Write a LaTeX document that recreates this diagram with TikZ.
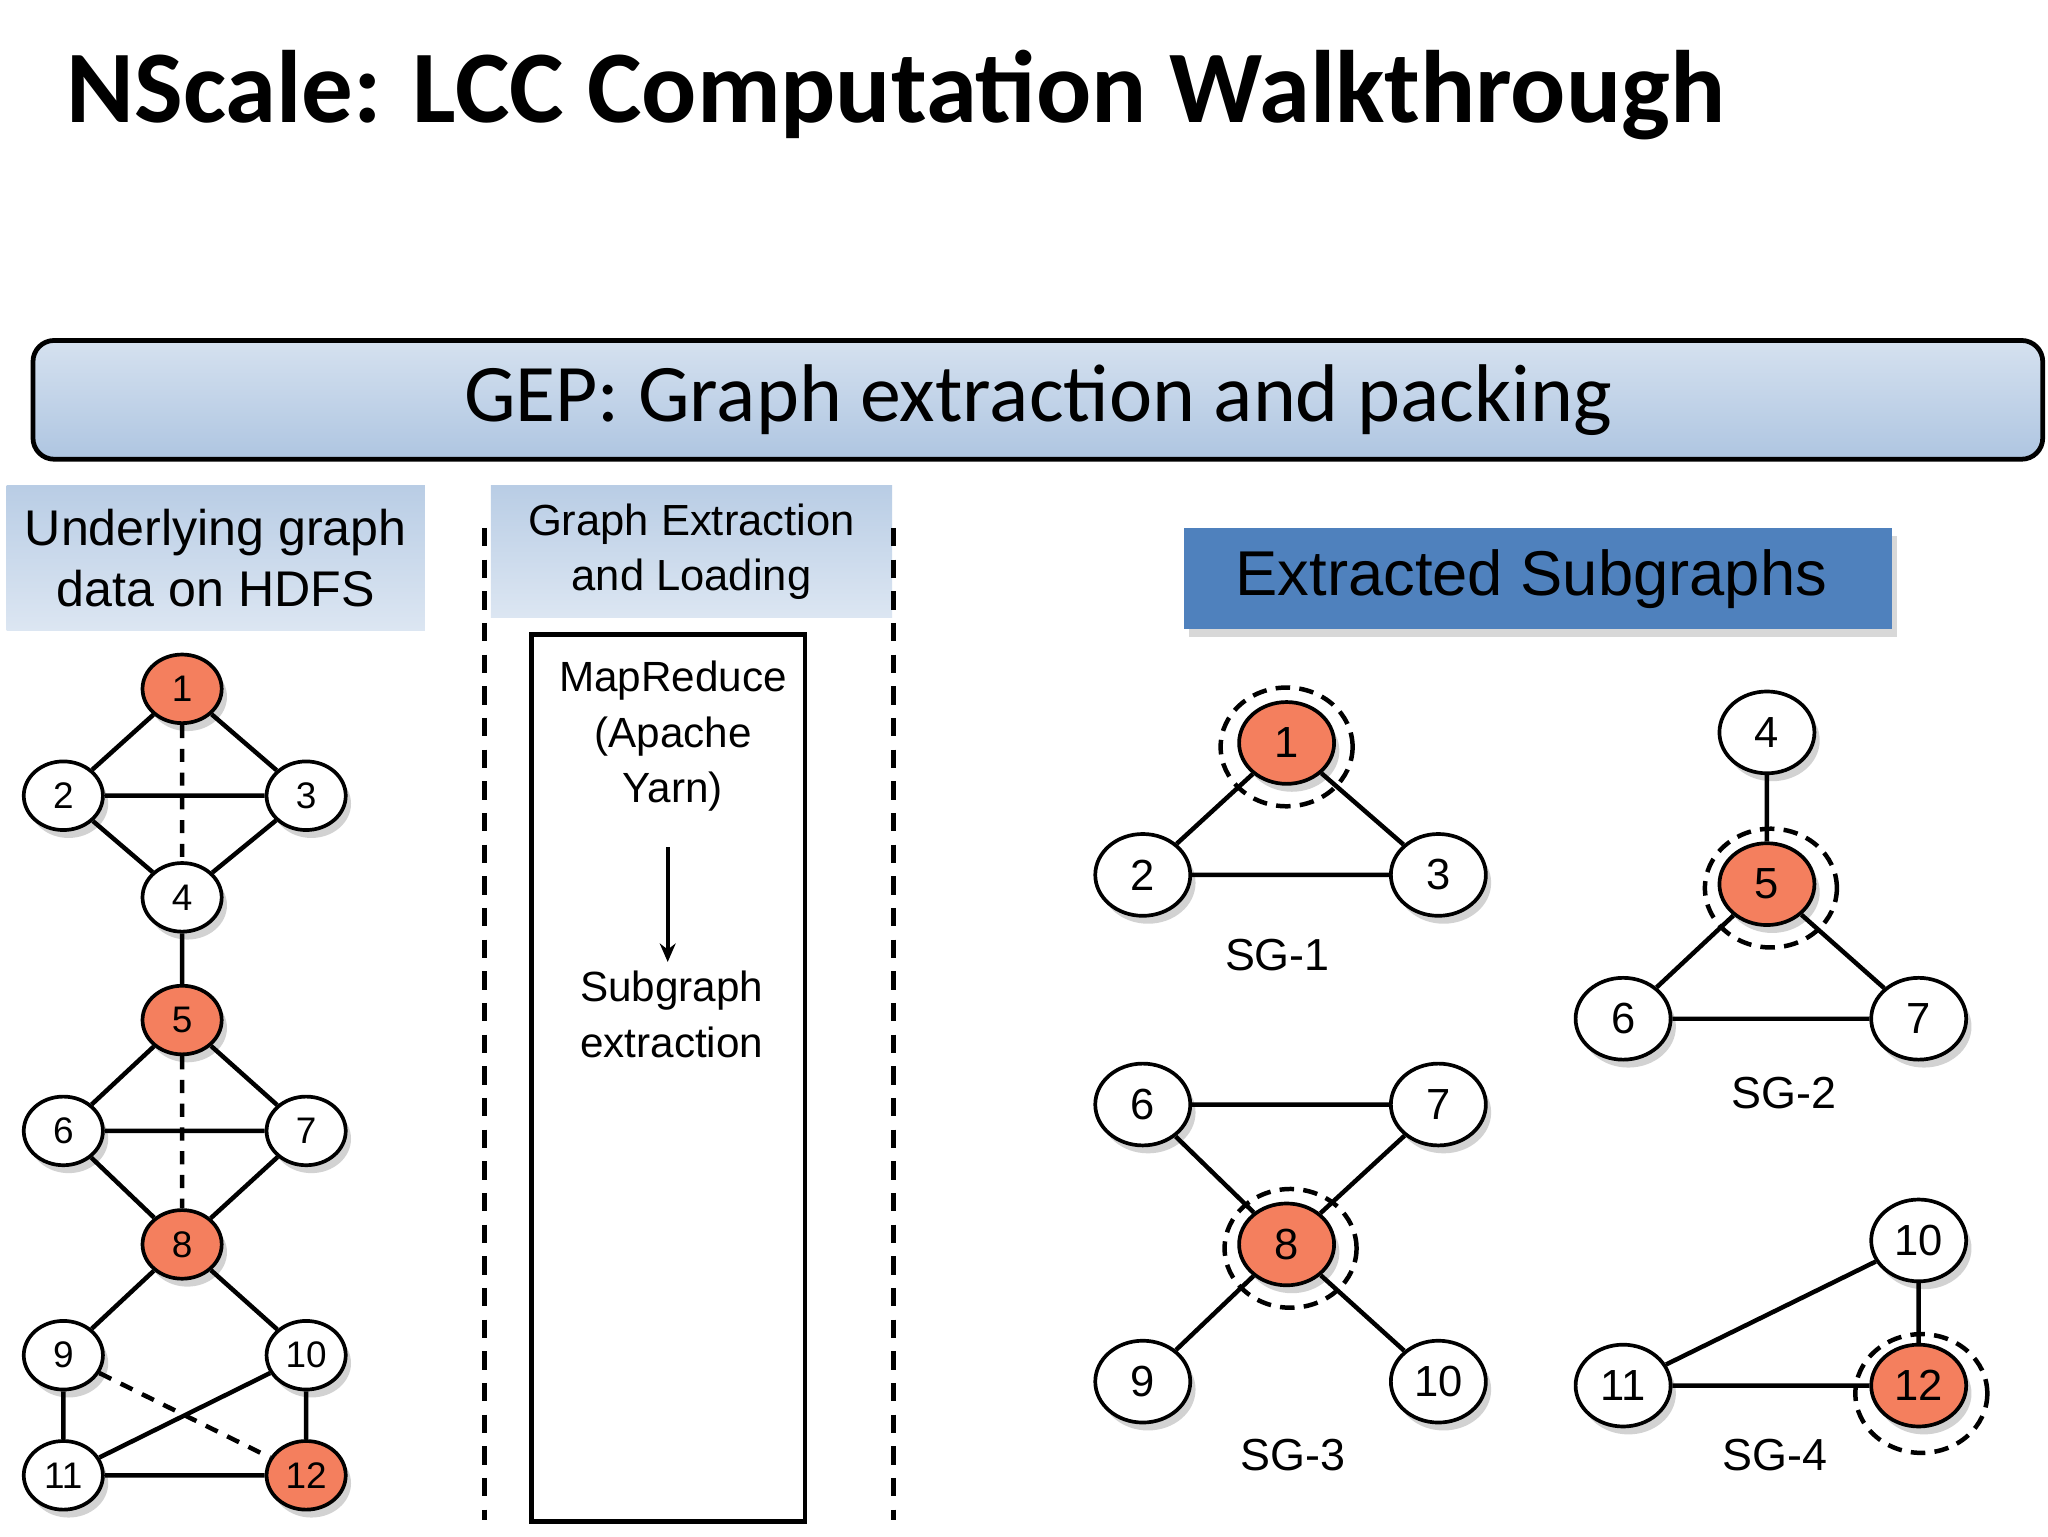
\documentclass[tikz,border=0pt]{standalone}
\usepackage{fontspec}
\setmainfont{Liberation Sans}
\newfontfamily\calib{Carlito}
\usetikzlibrary{shapes.geometric,shadows,arrows.meta}
\definecolor{nred}{HTML}{F47F5E}
\definecolor{hblue}{HTML}{B9CDE5}
\definecolor{sgblue}{HTML}{4F81BD}
\tikzset{
 gn/.style={ellipse,draw,line width=1.4pt,fill=white,minimum width=30pt,minimum height=26pt,inner sep=0pt,font=\fontsize{14}{14}\selectfont,drop shadow={shadow xshift=2pt,shadow yshift=-3pt,opacity=0.35}},
 rn/.style={gn,fill=nred},
 bn/.style={gn,minimum width=36pt,minimum height=31pt,font=\fontsize{16.5}{16.5}\selectfont},
 brn/.style={bn,fill=nred},
 ed/.style={line width=1.7pt},
 ded/.style={line width=1.7pt,dash pattern=on 5pt off 4pt},
 ring/.style={draw,line width=1.7pt,dash pattern=on 5.5pt off 3.5pt,ellipse,minimum width=50pt,minimum height=45pt,inner sep=0pt},
 sglab/.style={font=\fontsize{17}{17}\selectfont},
 hdr/.style={draw=none,top color=hblue,bottom color=hblue!50!white}
}
\begin{document}
\begin{tikzpicture}[x=0.5pt,y=-0.5pt]
\useasboundingbox (0,0) rectangle (1552,1164);
\fill[white] (0,0) rectangle (1552,1164);
\node[anchor=base west,inner sep=0pt,font=\calib\bfseries\fontsize{39}{39}\selectfont] (title) at (50,93) {NScale: LCC Computation Walkthrough};
% GEP bar
\node[draw,line width=1.8pt,rounded corners=8pt,top color=hblue!60!white,bottom color=hblue!90!sgblue,minimum width=761.5pt,minimum height=45pt,font=\calib\fontsize{31}{31}\selectfont] (gep) at (786.5,303) {GEP: Graph extraction and packing};
% headers
\node[hdr,minimum width=158.5pt,minimum height=55pt,align=center,font=\fontsize{19}{23}\selectfont] (h1) at (163.5,423) {Underlying graph\\data on HDFS};
\node[hdr,minimum width=152pt,minimum height=50pt,align=center,font=\fontsize{16.5}{21}\selectfont] (h2) at (524,418) {Graph Extraction\\and Loading};
\coordinate (d1a) at (367,400); \coordinate (d1b) at (367,1152);
\coordinate (d2a) at (677,400); \coordinate (d2b) at (677,1152);
\draw[line width=1.8pt,dash pattern=on 7pt off 5pt] (d1a) -- (d1b);
\draw[line width=1.8pt,dash pattern=on 7pt off 5pt] (d2a) -- (d2b);
\node[draw,line width=1.8pt,minimum width=103.5pt,minimum height=336pt] (mr) at (506.5,817) {};
\node[align=center,font=\fontsize{16}{21}\selectfont,anchor=north] (mrt) at (510,494) {MapReduce\\(Apache\\Yarn)};
\node[align=center,font=\fontsize{16}{21}\selectfont,anchor=north] (sub) at (509,729) {Subgraph\\extraction};
\coordinate (ar1) at (506,642);
\draw[line width=1.5pt,-{Stealth[length=7pt,width=6pt]}] (ar1) -- (sub.north -| ar1);
\node[fill=sgblue,minimum width=268pt,minimum height=38.5pt,drop shadow={shadow xshift=2pt,shadow yshift=-3pt,opacity=0.3},font=\fontsize{24}{24}\selectfont,anchor=west] (es) at (897,438.5) {\hspace{-5pt}Extracted Subgraphs};
% left graph
\node[rn] (a1) at (138,522) {1};
\node[gn] (a2) at (48,603) {2};
\node[gn] (a3) at (232,603) {3};
\node[gn] (a4) at (138,680) {4};
\node[rn] (a5) at (138,773) {5};
\node[gn] (a6) at (48,857) {6};
\node[gn] (a7) at (232,857) {7};
\node[rn] (a8) at (138,943) {8};
\node[gn] (a9) at (48,1027) {9};
\node[gn] (a10) at (232,1027) {10};
\node[gn] (a11) at (48,1118) {11};
\node[rn] (a12) at (232,1118) {12};
\draw[ed] (a1)--(a2) (a1)--(a3) (a2)--(a3) (a2)--(a4) (a3)--(a4) (a4)--(a5)
 (a5)--(a6) (a5)--(a7) (a6)--(a7) (a6)--(a8) (a7)--(a8) (a8)--(a9) (a8)--(a10)
 (a9)--(a11) (a10)--(a12) (a11)--(a12) (a11)--(a10);
\draw[ded] (a1)--(a4) (a5)--(a8) (a9)--(a12);
% SG-1
\node[ring] (r1) at (975,566) {};
\node[brn] (b1) at (975,563) {1};
\node[bn] (b2) at (866,663) {2};
\node[bn] (b3) at (1090,663) {3};
\draw[ed] (b1)--(b2) (b1)--(b3) (b2)--(b3);
\node[sglab] (sg1) at (968,724) {SG-1};
% SG-2
\node[bn] (c4) at (1339,555) {4};
\node[ring] (r5) at (1342,673) {};
\node[brn] (c5) at (1339,670) {5};
\node[bn] (c6) at (1230,772) {6};
\node[bn] (c7) at (1454,772) {7};
\draw[ed] (c4)--(c5) (c5)--(c6) (c5)--(c7) (c6)--(c7);
\node[sglab] (sg2) at (1352,828) {SG-2};
% SG-3
\node[bn] (d6) at (866,837) {6};
\node[bn] (d7) at (1090,837) {7};
\node[ring] (r8) at (978,946) {};
\node[brn] (d8) at (975,943) {8};
\node[bn] (d9) at (866,1047) {9};
\node[bn] (d10) at (1090,1047) {10};
\draw[ed] (d6)--(d7) (d6)--(d8) (d7)--(d8) (d8)--(d9) (d8)--(d10);
\node[sglab] (sg3) at (980,1103) {SG-3};
% SG-4
\node[bn] (e10) at (1454,940) {10};
\node[bn] (e11) at (1230,1050) {11};
\node[ring] (r12) at (1456,1056) {};
\node[brn] (e12) at (1454,1050) {12};
\draw[ed] (e10)--(e11) (e10)--(e12) (e11)--(e12);
\node[sglab] (sg4) at (1345,1103) {SG-4};
\end{tikzpicture}
\end{document}
